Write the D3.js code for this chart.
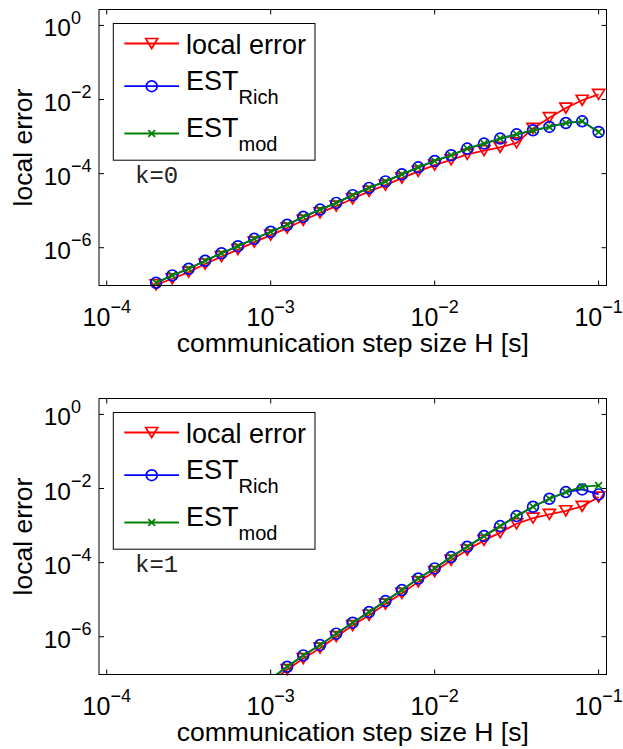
<!DOCTYPE html>
<html>
<head>
<meta charset="utf-8">
<script src="https://cdn.jsdelivr.net/npm/d3@7"></script>
<style>
    body { margin: 0; background: #fff; }
    svg text { font-family: "Liberation Sans", Arial, Helvetica, sans-serif; fill: #000; }
</style>
</head>
<body>
<div id="chart"></div>
<script>
// k = 0 : communication step sizes H [s] and errors
const H_k0 = [2.0e-4, 2.51e-4, 3.16e-4, 3.98e-4, 5.01e-4, 6.31e-4, 7.94e-4, 1.0e-3, 1.26e-3, 1.58e-3,
              2.0e-3, 2.51e-3, 3.16e-3, 3.98e-3, 5.01e-3, 6.31e-3, 7.94e-3, 1.0e-2, 1.26e-2, 1.58e-2,
              2.0e-2, 2.51e-2, 3.16e-2, 3.98e-2, 5.01e-2, 6.31e-2, 7.94e-2, 1.0e-1];
const localErr_k0 = [1.0e-7, 1.45e-7, 2.19e-7, 3.63e-7, 5.75e-7, 8.91e-7, 1.41e-6, 2.19e-6, 3.39e-6, 5.50e-6,
                     8.71e-6, 1.32e-5, 2.09e-5, 3.31e-5, 4.90e-5, 7.59e-5, 1.15e-4, 1.70e-4, 2.34e-4, 3.31e-4,
                     4.17e-4, 5.13e-4, 6.76e-4, 1.66e-3, 3.24e-3, 5.89e-3, 9.55e-3, 1.38e-2];
const estRich_k0 = [1.13e-7, 1.79e-7, 2.70e-7, 4.44e-7, 7.08e-7, 1.10e-6, 1.74e-6, 2.69e-6, 4.17e-6, 6.81e-6,
                    1.07e-5, 1.62e-5, 2.62e-5, 4.12e-5, 6.17e-5, 9.55e-5, 1.48e-4, 2.20e-4, 3.13e-4, 4.74e-4,
                    6.47e-4, 8.83e-4, 1.15e-3, 1.48e-3, 1.82e-3, 2.33e-3, 2.58e-3, 1.33e-3];
const estMod_k0 = [1.13e-7, 1.79e-7, 2.70e-7, 4.44e-7, 7.08e-7, 1.10e-6, 1.74e-6, 2.69e-6, 4.17e-6, 6.81e-6,
                   1.07e-5, 1.62e-5, 2.62e-5, 4.12e-5, 6.17e-5, 9.55e-5, 1.48e-4, 2.20e-4, 3.13e-4, 4.74e-4,
                   6.47e-4, 8.83e-4, 1.15e-3, 1.48e-3, 1.82e-3, 2.33e-3, 2.58e-3, 1.33e-3];

// k = 1
const H_k1 = [1.0e-3, 1.26e-3, 1.58e-3, 2.0e-3, 2.51e-3, 3.16e-3, 3.98e-3, 5.01e-3, 6.31e-3, 7.94e-3,
              1.0e-2, 1.26e-2, 1.58e-2, 2.0e-2, 2.51e-2, 3.16e-2, 3.98e-2, 5.01e-2, 6.31e-2, 7.94e-2, 1.0e-1];
const localErr_k1 = [6.03e-8, 1.29e-7, 2.57e-7, 4.90e-7, 1.00e-6, 2.00e-6, 3.80e-6, 7.59e-6, 1.48e-5, 3.02e-5,
                     5.75e-5, 1.15e-4, 2.19e-4, 3.98e-4, 6.46e-4, 1.12e-3, 1.58e-3, 2.00e-3, 2.51e-3, 3.31e-3, 5.89e-3];
const estRich_k1 = [7.24e-8, 1.55e-7, 3.13e-7, 5.93e-7, 1.21e-6, 2.39e-6, 4.61e-6, 9.14e-6, 1.81e-5, 3.72e-5,
                    6.97e-5, 1.41e-4, 2.69e-4, 5.19e-4, 9.66e-4, 1.80e-3, 3.22e-3, 5.30e-3, 8.00e-3, 9.46e-3, 6.93e-3];
const estMod_k1 = [7.24e-8, 1.55e-7, 3.13e-7, 5.93e-7, 1.21e-6, 2.39e-6, 4.61e-6, 9.14e-6, 1.81e-5, 3.72e-5,
                   6.97e-5, 1.41e-4, 2.69e-4, 5.19e-4, 9.66e-4, 1.80e-3, 3.22e-3, 5.30e-3, 8.00e-3, 1.12e-2, 1.20e-2];

const xTicks = [1e-4, 1e-3, 1e-2, 1e-1];
const yTicks = [1e0, 1e-2, 1e-4, 1e-6];
const legendNames = ["local error", "EST", "EST"];
const legendSubs = ["", "Rich", "mod"];
const seriesColors = ["#ff0000", "#0000ff", "#008000"];
const markerTypes = ["triangle", "circle", "cross"];

const width = 623, height = 749;
const plotLeft = 99, plotWidth = 507.5, plotHeight = 276;

const svg = d3.select("#chart")
    .append("svg")
    .attr("width", width)
    .attr("height", height);

const xScale = d3.scaleLog().domain([8.97e-5, 0.1117]).range([0, plotWidth]);
const yScale = d3.scaleLog().domain([9.55e-8, 2.69]).range([plotHeight, 0]);

function drawMarker(g, type, color) {
    if (type === "triangle") {
        g.append("path").attr("d", "M-6,-5L6,-5L0,5Z")
            .attr("fill", "none").attr("stroke", color).attr("stroke-width", 1.7);
    } else if (type === "circle") {
        g.append("circle").attr("r", 5.4)
            .attr("fill", "none").attr("stroke", color).attr("stroke-width", 1.7);
    } else {
        g.append("path").attr("d", "M-3.4,-3.4L3.4,3.4M-3.4,3.4L3.4,-3.4")
            .attr("fill", "none").attr("stroke", color).attr("stroke-width", 1.7);
    }
}

function drawPanel(top, H, series, kText, clipId) {
    const g = svg.append("g").attr("transform", `translate(${plotLeft}, ${top})`);

    g.append("clipPath").attr("id", clipId)
        .append("rect").attr("width", plotWidth).attr("height", plotHeight);

    g.append("rect")
        .attr("width", plotWidth).attr("height", plotHeight)
        .attr("fill", "#fff").attr("stroke", "none");

    // ticks on all four sides, pointing inward
    const tickLen = 5;
    xTicks.forEach(t => {
        const x = xScale(t);
        g.append("line").attr("x1", x).attr("x2", x).attr("y1", plotHeight).attr("y2", plotHeight - tickLen)
            .attr("stroke", "#000").attr("stroke-width", 1);
        g.append("line").attr("x1", x).attr("x2", x).attr("y1", 0).attr("y2", tickLen)
            .attr("stroke", "#000").attr("stroke-width", 1);
        const e = Math.round(Math.log10(t));
        const lab = g.append("text")
            .attr("x", x).attr("y", plotHeight + 40)
            .attr("text-anchor", "middle")
            .style("font-size", "25px");
        lab.append("tspan").text("10");
        lab.append("tspan").attr("dy", -13).style("font-size", "18px")
            .text(e < 0 ? "\u2212" + (-e) : e);
    });
    yTicks.forEach(t => {
        const y = yScale(t);
        g.append("line").attr("x1", 0).attr("x2", tickLen).attr("y1", y).attr("y2", y)
            .attr("stroke", "#000").attr("stroke-width", 1);
        g.append("line").attr("x1", plotWidth).attr("x2", plotWidth - tickLen).attr("y1", y).attr("y2", y)
            .attr("stroke", "#000").attr("stroke-width", 1);
        const e = Math.round(Math.log10(t));
        g.append("text")
            .attr("x", -28).attr("y", y + 11)
            .attr("text-anchor", "end")
            .style("font-size", "24.5px")
            .text("10");
        g.append("text")
            .attr("x", -28).attr("y", y - 1.5)
            .attr("text-anchor", "start")
            .style("font-size", "18px")
            .text(e < 0 ? "\u2212" + (-e) : e);
    });

    // data lines + markers
    const line = d3.line()
        .x(d => xScale(d[0]))
        .y(d => yScale(d[1]));

    const [lo, hi] = yScale.domain();
    series.forEach((vals, si) => {
        const pts = H.map((h, i) => [h, vals[i]]);
        g.append("path")
            .datum(pts)
            .attr("d", line)
            .attr("clip-path", `url(#${clipId})`)
            .attr("fill", "none")
            .attr("stroke", seriesColors[si])
            .attr("stroke-width", 1.8);
        pts.filter(p => p[1] >= lo * 0.99 && p[1] <= hi).forEach(p => {
            const m = g.append("g").attr("transform", `translate(${xScale(p[0])}, ${yScale(p[1])})`);
            drawMarker(m, markerTypes[si], seriesColors[si]);
        });
    });

    // axes box on top
    g.append("rect")
        .attr("width", plotWidth).attr("height", plotHeight)
        .attr("fill", "none").attr("stroke", "#000").attr("stroke-width", 1);

    // legend
    const lg = g.append("g").attr("transform", "translate(14.3, 14)");
    lg.append("rect")
        .attr("width", 201.7).attr("height", 136.7)
        .attr("fill", "#fff").attr("stroke", "#000").attr("stroke-width", 1);
    const rowY = [20, 62.7, 110];
    const textY = [30, 66.7, 113.5];
    legendNames.forEach((name, i) => {
        lg.append("line")
            .attr("x1", 11).attr("x2", 65.7)
            .attr("y1", rowY[i]).attr("y2", rowY[i])
            .attr("stroke", seriesColors[i]).attr("stroke-width", 1.8);
        const m = lg.append("g").attr("transform", `translate(38.4, ${rowY[i]})`);
        drawMarker(m, markerTypes[i], seriesColors[i]);
        const t = lg.append("text")
            .attr("x", 72.7).attr("y", textY[i])
            .style("font-size", "27px");
        t.append("tspan").text(name);
        if (legendSubs[i]) {
            t.append("tspan").attr("dy", 13.5).style("font-size", "20px").text(legendSubs[i]);
        }
    });

    // k annotation
    g.append("text")
        .attr("x", 36).attr("y", 173.5)
        .style("font-family", "'Liberation Mono', 'Courier New', monospace")
        .style("font-size", "24px")
        .style("fill", "#222")
        .text(kText);

    // axis labels
    g.append("text")
        .attr("x", plotWidth / 2).attr("y", plotHeight + 66.5)
        .attr("text-anchor", "middle")
        .style("font-size", "26.5px")
        .text("communication step size H [s]");

    g.append("text")
        .attr("transform", "rotate(-90)")
        .attr("x", -plotHeight / 2).attr("y", -67)
        .attr("text-anchor", "middle")
        .style("font-size", "26.5px")
        .text("local error");
}

drawPanel(9.5, H_k0, [localErr_k0, estRich_k0, estMod_k0], "k=0", "clip0");
drawPanel(398.5, H_k1, [localErr_k1, estRich_k1, estMod_k1], "k=1", "clip1");
</script>
</body>
</html>
